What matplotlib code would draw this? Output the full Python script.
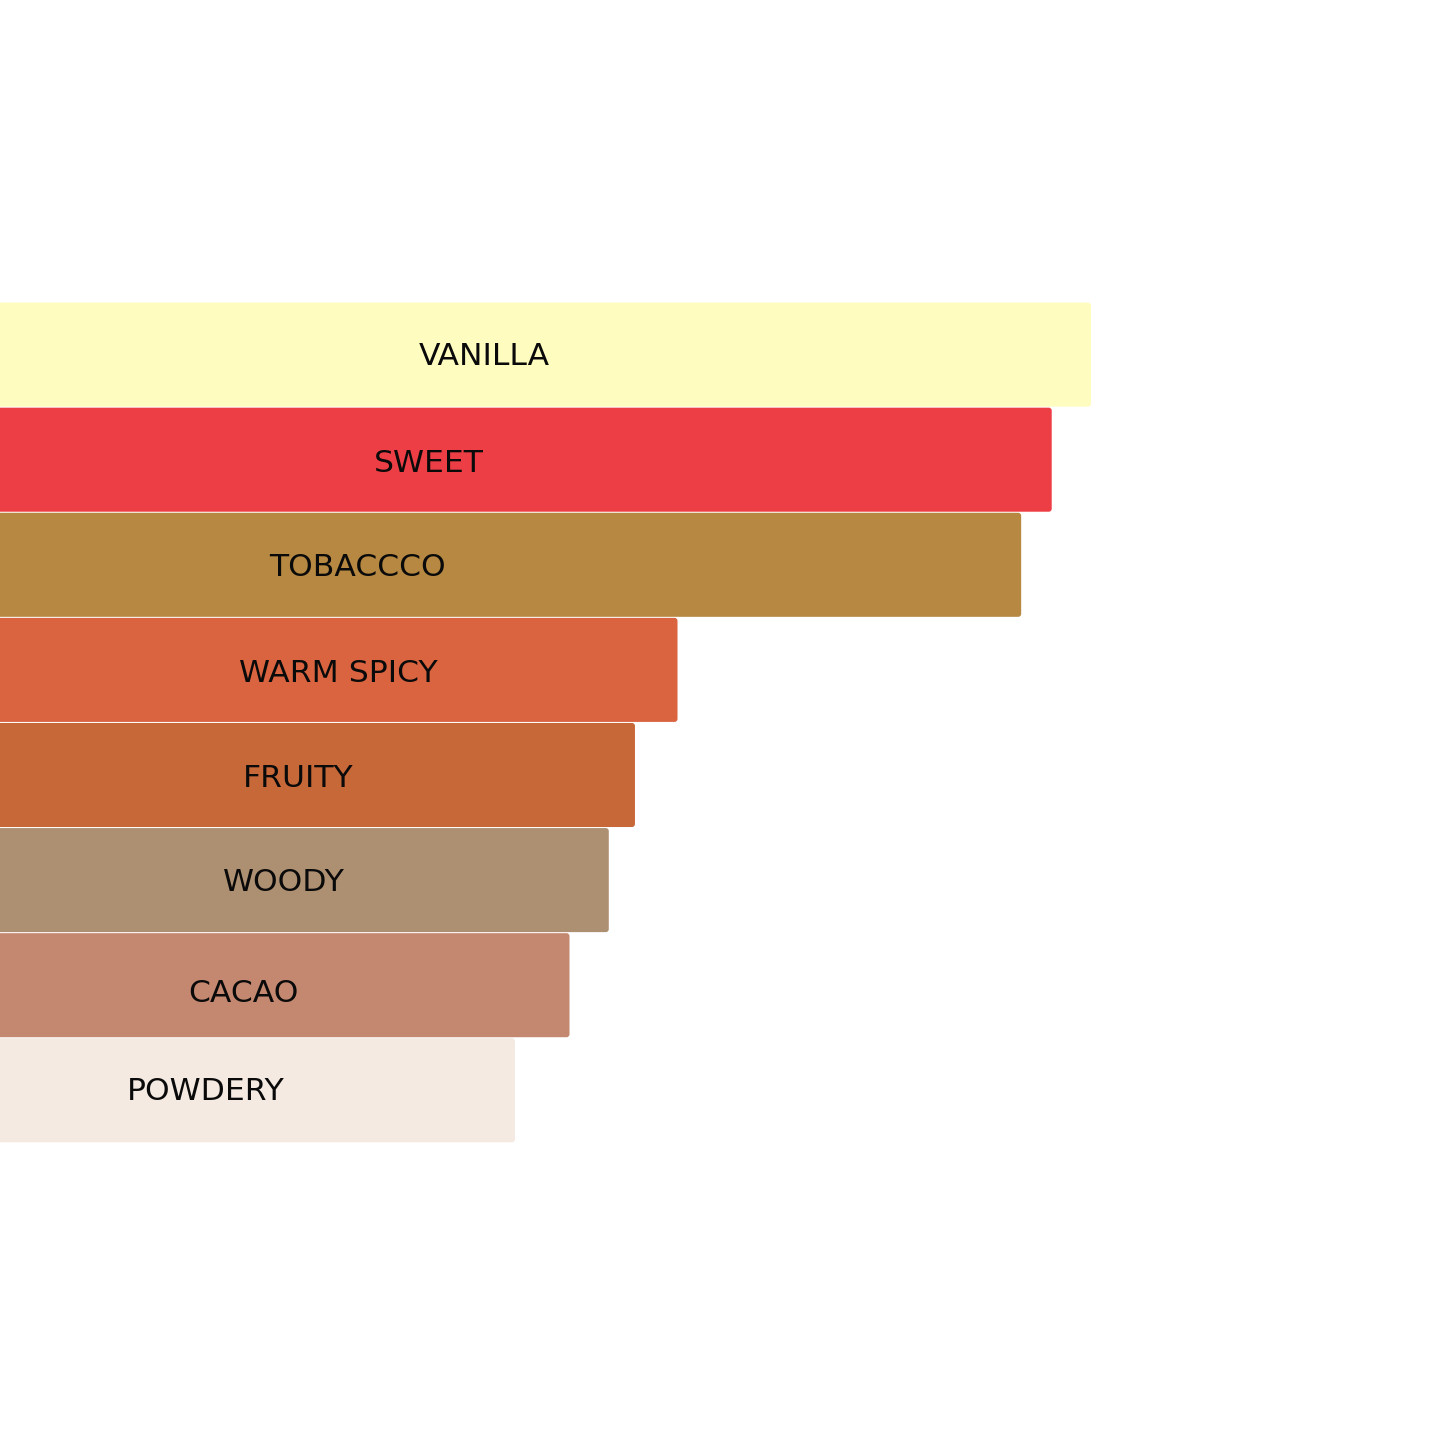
import matplotlib
matplotlib.use("Agg")
import matplotlib.pyplot as plt
from matplotlib.patches import FancyBboxPatch

categories = ["VANILLA", "SWEET", "TOBACCCO", "WARM SPICY", "FRUITY", "WOODY", "CACAO", "POWDERY"]
values = [100, 96.4, 93.6, 62.1, 58.2, 55.8, 52.2, 47.2]
colors = ["#FFFCC0", "#EE3E45", "#B68841", "#DA6440", "#C76838", "#AD8F71", "#C48870", "#F4EAE2"]
# where each label sits along the bar (same units as values)
label_x = [44.4, 39.3, 32.8, 31.0, 27.3, 26.0, 22.3, 18.9]
label_dy = [0.015, 0.035, 0.025, 0.03, 0.035, 0.02, 0.075, 0.015]

fig = plt.figure(figsize=(14.45, 14.45), dpi=100)
ax = fig.add_axes([0, 0, 1, 1])

xmax = 1445 * 100 / 1091
ax.set_xlim(0, xmax)
ax.set_ylim(10.375, -3.374)

bars = ax.barh(range(len(categories)), values, height=0.99, color=colors)

# swap plain rectangles for ones with slightly rounded corners
px_x = xmax / 1445
px_y = (10.375 + 3.374) / 1445
for bar in bars:
    x, y = bar.get_x(), bar.get_y()
    w, h = bar.get_width(), bar.get_height()
    box = FancyBboxPatch((x - 1, y), w + 1, h,
                         boxstyle="round,pad=0,rounding_size=%f" % (3 * px_x),
                         mutation_aspect=px_y / px_x,
                         facecolor=bar.get_facecolor(), edgecolor="none")
    bar.set_visible(False)
    ax.add_patch(box)

for i, name in enumerate(categories):
    ax.text(label_x[i], i + label_dy[i], name, ha="center", va="center",
            fontsize=22.6, color="#0a0a0a", family="DejaVu Sans")

ax.axis("off")
fig.savefig("out.png", dpi=100, facecolor="white")
